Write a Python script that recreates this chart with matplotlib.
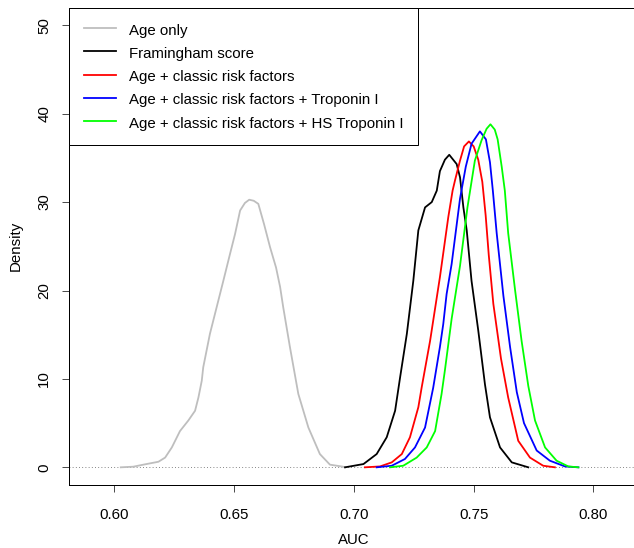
import matplotlib
matplotlib.use("Agg")
import matplotlib.pyplot as plt

# AUC density curves
age_x = [0.6027, 0.6079, 0.6121, 0.6184, 0.6212, 0.6240, 0.6274, 0.6309, 0.6337,
         0.6351, 0.6365, 0.6371, 0.6399, 0.6427, 0.6455, 0.6483, 0.6504, 0.6525,
         0.6545, 0.6563, 0.6582, 0.6601, 0.6625, 0.6650, 0.6675, 0.6692, 0.6705,
         0.6733, 0.6768, 0.6810, 0.6858, 0.6900, 0.6955, 0.6963]
age_y = [0.0, 0.07, 0.3, 0.63, 1.1, 2.25, 4.1, 5.3, 6.4,
         7.9, 9.8, 11.3, 15.1, 18.1, 21.1, 24.15, 26.4, 29.05,
         29.9, 30.27, 30.15, 29.8, 27.5, 24.9, 22.6, 20.4, 18.1,
         13.6, 8.3, 4.5, 1.5, 0.3, 0.07, 0.0]

fram_x = [0.6963, 0.7040, 0.7095, 0.7137, 0.7172, 0.7193, 0.7221, 0.7248, 0.7269,
          0.7283, 0.7297, 0.7325, 0.7346, 0.7359, 0.7380, 0.7398, 0.7429, 0.7443,
          0.7457, 0.7471, 0.7491, 0.7519, 0.7547, 0.7568, 0.7610, 0.7659, 0.7728]
fram_y = [0.0, 0.37, 1.5, 3.4, 6.4, 10.2, 15.1, 21.1, 26.8,
          28.1, 29.4, 30.0, 31.3, 33.5, 34.8, 35.35, 34.3, 32.8,
          29.4, 26.8, 21.1, 15.5, 9.4, 5.65, 2.25, 0.56, 0.0]

crf_x = [0.7046, 0.7109, 0.7158, 0.7200, 0.7234, 0.7269, 0.7283, 0.7318, 0.7359,
         0.7394, 0.7412, 0.7422, 0.7443, 0.7460, 0.7480, 0.7500, 0.7519, 0.7536,
         0.7550, 0.7563, 0.7582, 0.7614, 0.7644, 0.7686, 0.7735, 0.7790, 0.7839]
crf_y = [0.0, 0.1, 0.56, 1.5, 3.4, 6.8, 9.05, 14.3, 21.5,
         28.3, 31.3, 32.45, 34.7, 36.3, 36.86, 36.3, 34.8, 32.3,
         28.5, 24.0, 18.5, 12.3, 7.9, 3.0, 1.1, 0.18, 0.0]

tni_x = [0.7095, 0.7158, 0.7213, 0.7255, 0.7297, 0.7331, 0.7359, 0.7373, 0.7387,
         0.7408, 0.7443, 0.7467, 0.7491, 0.7526, 0.7551, 0.7568, 0.7580, 0.7596,
         0.7624, 0.7652, 0.7680, 0.7710, 0.7763, 0.7818, 0.7881, 0.7937]
tni_y = [0.0, 0.18, 0.94, 2.25, 4.5, 9.0, 13.6, 16.2, 19.6,
         23.0, 30.4, 34.0, 36.6, 38.0, 37.1, 34.5, 31.3, 26.5,
         19.4, 13.6, 8.5, 5.0, 1.9, 0.75, 0.1, 0.0]

hs_x = [0.7151, 0.7206, 0.7262, 0.7304, 0.7339, 0.7366, 0.7380, 0.7408, 0.7443,
        0.7474, 0.7505, 0.7533, 0.7554, 0.7570, 0.7588, 0.7600, 0.7617, 0.7630,
        0.7644, 0.7673, 0.7700, 0.7728, 0.7756, 0.7798, 0.7846, 0.7895, 0.7937]
hs_y = [0.0, 0.18, 1.1, 2.25, 4.1, 8.3, 11.0, 16.8, 22.8,
        29.4, 34.7, 37.0, 38.3, 38.8, 38.2, 37.1, 34.0, 31.3,
        26.5, 20.0, 14.3, 9.2, 5.3, 2.25, 0.75, 0.1, 0.0]

labels = ["Age only", "Framingham score", "Age + classic risk factors",
          "Age + classic risk factors + Troponin I",
          "Age + classic risk factors + HS Troponin I"]
colors = ["#BEBEBE", "black", "#FF0000", "#0000FF", "#00FF00"]
x_ticks = [0.60, 0.65, 0.70, 0.75, 0.80]
y_ticks = [0, 10, 20, 30, 40, 50]

plt.rcParams['font.family'] = ['Liberation Sans', 'DejaVu Sans']
plt.rcParams['font.size'] = 15

fig = plt.figure(figsize=(634 / 72, 548 / 72), dpi=72)
ax = fig.add_axes([69.3 / 634, 63 / 548, 569.2 / 634, 477.4 / 548])

series = [(age_x, age_y), (fram_x, fram_y), (crf_x, crf_y), (tni_x, tni_y), (hs_x, hs_y)]
for (xs, ys), c, lab in zip(series, colors, labels):
    ax.plot(xs, ys, color=c, lw=1.8, label=lab, solid_joinstyle='round')

ax.axhline(0, color='0.3', ls=(0, (1, 3)), lw=0.8, zorder=0)

ax.set_xlim(0.5812, 0.8188)
ax.set_ylim(-2, 52)
ax.set_xticks(x_ticks)
ax.set_xticklabels([f"{t:.2f}" for t in x_ticks])
ax.set_yticks(y_ticks)
ax.set_yticklabels([str(t) for t in y_ticks], rotation=90, va='center')
ax.tick_params(length=7, width=1, direction='out', color='0.3')
ax.tick_params(axis='x', pad=16)
ax.tick_params(axis='y', pad=11)
for s in ax.spines.values():
    s.set_linewidth(1)
    s.set_color('black')

ax.set_xlabel("AUC", labelpad=11)
ax.set_ylabel("Density", labelpad=15)

leg = ax.legend(loc='upper left', borderaxespad=0, fancybox=False, edgecolor='black',
                framealpha=1, handlelength=2.13, handletextpad=0.93, borderpad=0.95,
                handleheight=1.2, labelspacing=0.5, fontsize=15)
leg.get_frame().set_linewidth(1)
for h in leg.get_lines():
    h.set_linewidth(1.8)

fig.savefig("out.png", dpi=72)
